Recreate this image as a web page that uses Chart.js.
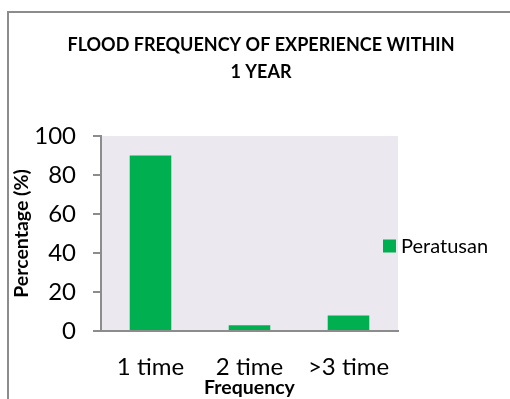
<!DOCTYPE html>
<html lang="en">
<head>
  <meta charset="UTF-8">
  <title>Flood Frequency</title>
  <script src="https://cdn.jsdelivr.net/npm/chart.js"></script>
  <style>
    html, body { margin:0; padding:0; background:#fff; }
    .wrap { position:relative; width:510px; height:399px; }
  </style>
</head>
<body>
  <div class="wrap">
    <canvas id="barChart" width="510" height="399"></canvas>
  </div>
  <script>
    const categories = ['1 time', '2 time', '>3 time'];
    const seriesLabel = 'Peratusan';
    const peratusan = [90, 3, 8];
    const yTicks = [0, 20, 40, 60, 80, 100];
    const titleLines = ['FLOOD FREQUENCY OF EXPERIENCE WITHIN', '1 YEAR'];

    const FONT = "Lato, 'Open Sans', sans-serif";
    const GREEN = '#00b050';
    const AXIS = '#8c8c8c';

    // outer frame, title and grey plot background
    const framePlugin = {
      id: 'frame',
      beforeDraw(chart) {
        const {ctx, chartArea:a} = chart;
        ctx.save();
        ctx.fillStyle = '#ebe9ef';
        ctx.fillRect(a.left, a.top, a.right - a.left, a.bottom - a.top);
        ctx.strokeStyle = AXIS;
        ctx.lineWidth = 2;
        ctx.strokeRect(8, 12, 520, 420);
        // title is centred on the whole frame, not the plot
        ctx.fillStyle = '#000';
        ctx.font = "bold 18px " + FONT;
        ctx.textAlign = 'center';
        ctx.textBaseline = 'middle';
        titleLines.forEach((t, i) => ctx.fillText(t, 261, 45.5 + i * 27));
        ctx.restore();
      }
    };

    // legend drawn over the right edge of the plot
    const sideLegend = {
      id: 'sideLegend',
      afterDraw(chart) {
        const {ctx, chartArea:a} = chart;
        const ds = chart.data.datasets[0];
        const y = (a.top + a.bottom) / 2 + 13;
        ctx.save();
        ctx.fillStyle = ds.backgroundColor;
        ctx.fillRect(a.right - 15, y - 7, 13, 13);
        ctx.fillStyle = '#000';
        ctx.font = "20px " + FONT;
        ctx.textBaseline = 'middle';
        ctx.fillText(ds.label, a.right + 3, y);
        ctx.restore();
      }
    };

    new Chart(document.getElementById('barChart').getContext('2d'), {
      type: 'bar',
      data: {
        labels: categories,
        datasets: [{
          label: seriesLabel,
          data: peratusan,
          backgroundColor: GREEN,
          barPercentage: 0.42,
          categoryPercentage: 1
        }]
      },
      options: {
        responsive: false,
        animation: false,
        layout: { padding: { left: 7, right: 112, top: 136, bottom: 0 } },
        plugins: {
          legend: { display: false },
          tooltip: { enabled: false },
          title: { display: false }
        },
        scales: {
          x: {
            afterFit(scale) { scale.height = 68; },
            grid: { display: false },
            border: { color: AXIS, width: 2 },
            ticks: { color: '#000', font: { family: FONT, size: 24 }, padding: 14 },
            title: {
              display: true, text: 'Frequency', color: '#000',
              font: { family: FONT, size: 19.5, weight: 'bold' }, padding: 0
            }
          },
          y: {
            min: 0, max: 100,
            afterFit(scale) { scale.width = 94; },
            afterBuildTicks(scale) { scale.ticks = yTicks.map(v => ({ value: v })); },
            grid: { drawOnChartArea: false, drawTicks: true, tickLength: 8, color: AXIS, lineWidth: 2 },
            border: { color: AXIS, width: 2 },
            ticks: { color: '#000', font: { family: FONT, size: 24 }, padding: 17 },
            title: {
              display: true, text: 'Percentage (%)', color: '#000',
              font: { family: FONT, size: 19.5, weight: 'bold' }, padding: 3
            }
          }
        }
      },
      plugins: [framePlugin, sideLegend]
    });
  </script>
</body>
</html>
